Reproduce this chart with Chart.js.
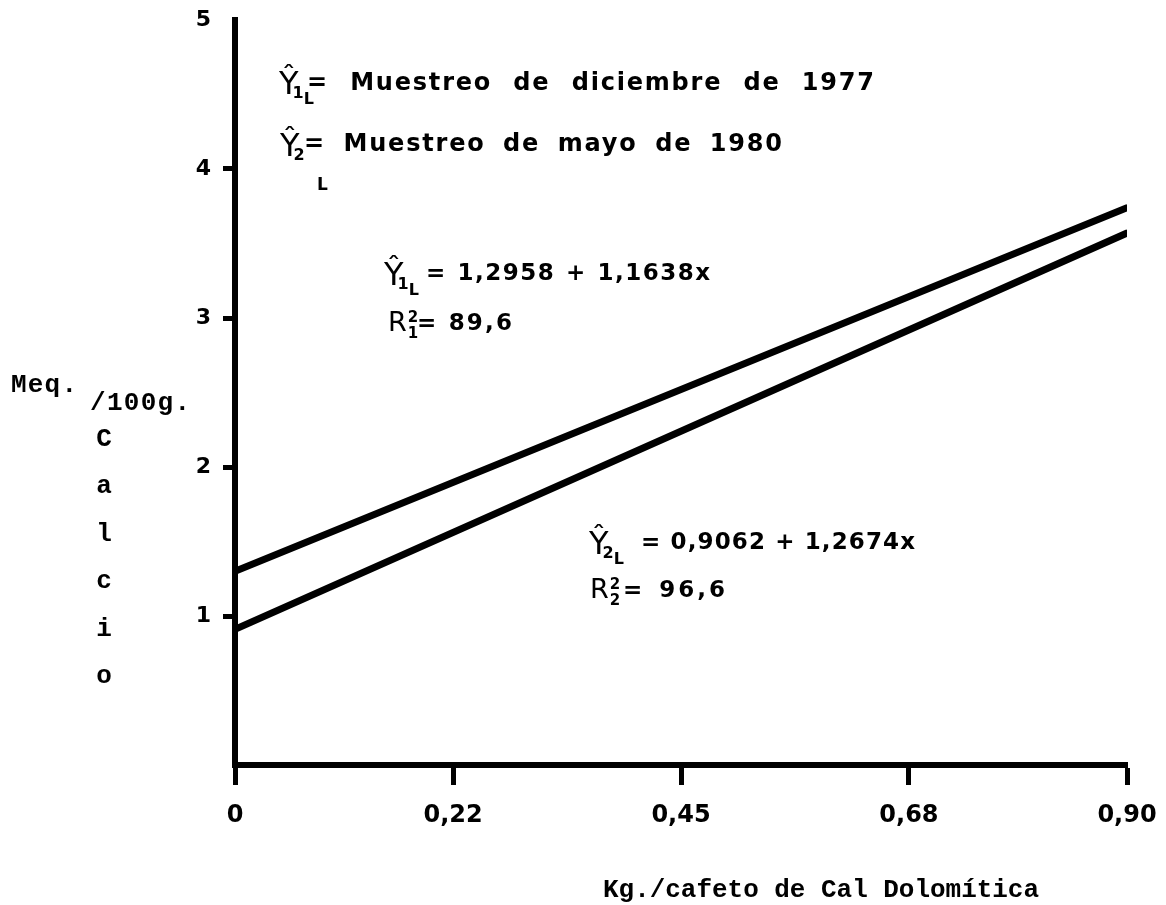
<!DOCTYPE html>
<html>
<head>
<meta charset="utf-8">
<script src="https://cdn.jsdelivr.net/npm/chart.js@4.4.1/dist/chart.umd.min.js"></script>
<style>
  html, body { margin: 0; padding: 0; background: #fff; }
  #wrap { width: 1166px; height: 905px; position: relative; }
</style>
</head>
<body>
<div id="wrap"><canvas id="c" width="1166" height="905"></canvas></div>
<script>
// Dose of dolomitic lime (kg per coffee plant) at the two ends of each fitted line
const doseKg = [0, 0.90];
// Exchangeable calcium (meq/100 g) along each fitted line
const calcio1977 = [1.30, 3.74];
const calcio1980 = [0.91, 3.57];

const xTickValues = [0, 0.22, 0.45, 0.68, 0.90];
const xTickLabels = ['0', '0,22', '0,45', '0,68', '0,90'];
const yTickValues = [1, 2, 3, 4, 5];
const yTickLabels = ['1', '2', '3', '4', '5'];

const legendTexts = ['= Muestreo de diciembre de 1977', '= Muestreo de mayo de 1980'];
const equation1 = ['= 1,2958 + 1,1638x', '= 89,6'];
const equation2 = ['= 0,9062 + 1,2674x', '= 96,6'];
const yTitleHead = ['Meq.', '/100g.'];
const yTitleWord = 'Calcio';
const xTitle = 'Kg./cafeto de Cal Dolomítica';

const SANS = '"DejaVu Sans", "Liberation Sans", sans-serif';
const MONO = '"Liberation Mono", "DejaVu Sans Mono", monospace';

// Draw text spread to a given width: letters are spaced out up to maxLetter px,
// the remainder goes between words
function fitText(ctx, text, x, y, width, font, maxLetter = 99) {
  ctx.font = font;
  ctx.letterSpacing = '0px';
  ctx.wordSpacing = '0px';
  const w = ctx.measureText(text).width;
  const n = [...text].length;
  const words = text.split(' ').length - 1;
  let extra = width - w;
  if (extra < 0) {
    ctx.save();
    ctx.translate(x, y);
    ctx.scale(width / w, 1);
    ctx.fillText(text, 0, 0);
    ctx.restore();
    return;
  }
  const ls = Math.min(maxLetter, n > 1 ? extra / (n - 1) : 0);
  extra -= ls * (n - 1);
  const ws = words > 0 ? extra / words : 0;
  ctx.letterSpacing = ls + 'px';
  ctx.wordSpacing = ws + 'px';
  ctx.fillText(text, x, y);
  ctx.letterSpacing = '0px';
  ctx.wordSpacing = '0px';
}

// Y with a hat plus its index subscripts
function drawYhat(ctx, x, y, size, sub, subL) {
  ctx.font = `${size}px ${SANS}`;
  ctx.fillText('\u0176', x, y);
  const w = ctx.measureText('\u0176').width;
  ctx.font = `bold ${Math.round(size * 0.5)}px ${SANS}`;
  ctx.fillText(sub, x + w - 6, y + size * 0.12);
  const sw = ctx.measureText(sub).width;
  if (subL) ctx.fillText('L', x + w - 6 + sw, y + size * 0.3);
}

// R squared with stacked super/subscript
function drawR2(ctx, x, y, size, sub) {
  ctx.font = `${size}px ${SANS}`;
  ctx.fillText('R', x, y);
  const w = ctx.measureText('R').width;
  ctx.font = `bold ${Math.round(size * 0.55)}px ${SANS}`;
  ctx.fillText('2', x + w + 1, y - size * 0.35);
  ctx.fillText(sub, x + w + 1, y + size * 0.25);
}

const annotations = {
  id: 'annotations',
  afterDraw(chart) {
    const ctx = chart.ctx;
    ctx.save();
    ctx.fillStyle = '#000';
    ctx.textBaseline = 'alphabetic';
    ctx.textAlign = 'left';

    // key to the two samplings
    drawYhat(ctx, 279, 94, 32, '1', true);
    fitText(ctx, legendTexts[0], 307, 90, 567, `bold 24px ${SANS}`, 1.8);
    drawYhat(ctx, 280, 156, 32, '2', false);
    ctx.font = `bold 17px ${SANS}`;
    ctx.fillText('L', 317, 190);
    fitText(ctx, legendTexts[1], 304, 151, 478, `bold 24px ${SANS}`, 1.8);

    // regression equations
    drawYhat(ctx, 384, 285, 32, '1', true);
    fitText(ctx, equation1[0], 426, 280, 284, `bold 23px ${SANS}`, 1.5);
    drawR2(ctx, 388, 331, 27, '1');
    fitText(ctx, equation1[1], 417, 330, 95, `bold 23px ${SANS}`, 3);

    drawYhat(ctx, 589, 554, 32, '2', true);
    fitText(ctx, equation2[0], 641, 549, 274, `bold 23px ${SANS}`, 1.5);
    drawR2(ctx, 590, 598, 27, '2');
    fitText(ctx, equation2[1], 623, 597, 102, `bold 23px ${SANS}`, 3);

    // vertical axis title
    fitText(ctx, yTitleHead[0], 11, 392, 66, `bold 26px ${MONO}`);
    fitText(ctx, yTitleHead[1], 90, 410, 100, `bold 26px ${MONO}`);
    ctx.textAlign = 'center';
    ctx.font = `bold 26px ${MONO}`;
    [...yTitleWord].forEach((ch, i) => {
      ctx.fillText(ch, 104, 446 + i * 47.4);
    });

    // horizontal axis title
    ctx.textAlign = 'left';
    fitText(ctx, xTitle, 603, 897, 436, `bold 26px ${MONO}`);
    ctx.restore();
  }
};

new Chart(document.getElementById('c'), {
  type: 'line',
  data: {
    datasets: [
      {
        label: 'Muestreo de diciembre de 1977',
        data: doseKg.map((x, i) => ({ x, y: calcio1977[i] })),
        borderColor: '#000', borderWidth: 7, borderCapStyle: 'round',
        pointRadius: 0, fill: false
      },
      {
        label: 'Muestreo de mayo de 1980',
        data: doseKg.map((x, i) => ({ x, y: calcio1980[i] })),
        borderColor: '#000', borderWidth: 7, borderCapStyle: 'round',
        pointRadius: 0, fill: false
      }
    ]
  },
  options: {
    responsive: false,
    animation: false,
    devicePixelRatio: 1,
    layout: { padding: { top: 20, right: 39, left: 0, bottom: 0 } },
    plugins: { legend: { display: false }, tooltip: { enabled: false } },
    scales: {
      x: {
        type: 'linear', min: 0, max: 0.9,
        afterBuildTicks: s => { s.ticks = xTickValues.map(v => ({ value: v })); },
        afterFit: s => { s.height = 140; s.paddingRight = 0; s.paddingLeft = 0; },
        grid: { drawOnChartArea: false, tickLength: 20, tickWidth: 5, tickColor: '#000' },
        border: { display: true, width: 6, color: '#000' },
        ticks: {
          padding: 16, color: '#000', autoSkip: false, maxRotation: 0,
          font: { family: SANS, weight: 'bold', size: 24 },
          callback: (v, i) => xTickLabels[i]
        }
      },
      y: {
        type: 'linear', min: 0, max: 5,
        afterBuildTicks: s => { s.ticks = yTickValues.map(v => ({ value: v })); },
        afterFit: s => { s.width = 235; s.paddingTop = 0; s.paddingBottom = 0; },
        grid: {
          drawOnChartArea: false, tickLength: 12, tickWidth: 5,
          tickColor: c => (c.tick && c.tick.value === 5 ? 'rgba(0,0,0,0)' : '#000')
        },
        border: { display: true, width: 6, color: '#000' },
        ticks: {
          padding: 12, color: '#000',
          font: { family: SANS, weight: 'bold', size: 22 },
          callback: (v, i) => yTickLabels[i]
        }
      }
    }
  },
  plugins: [annotations]
});
</script>
</body>
</html>
